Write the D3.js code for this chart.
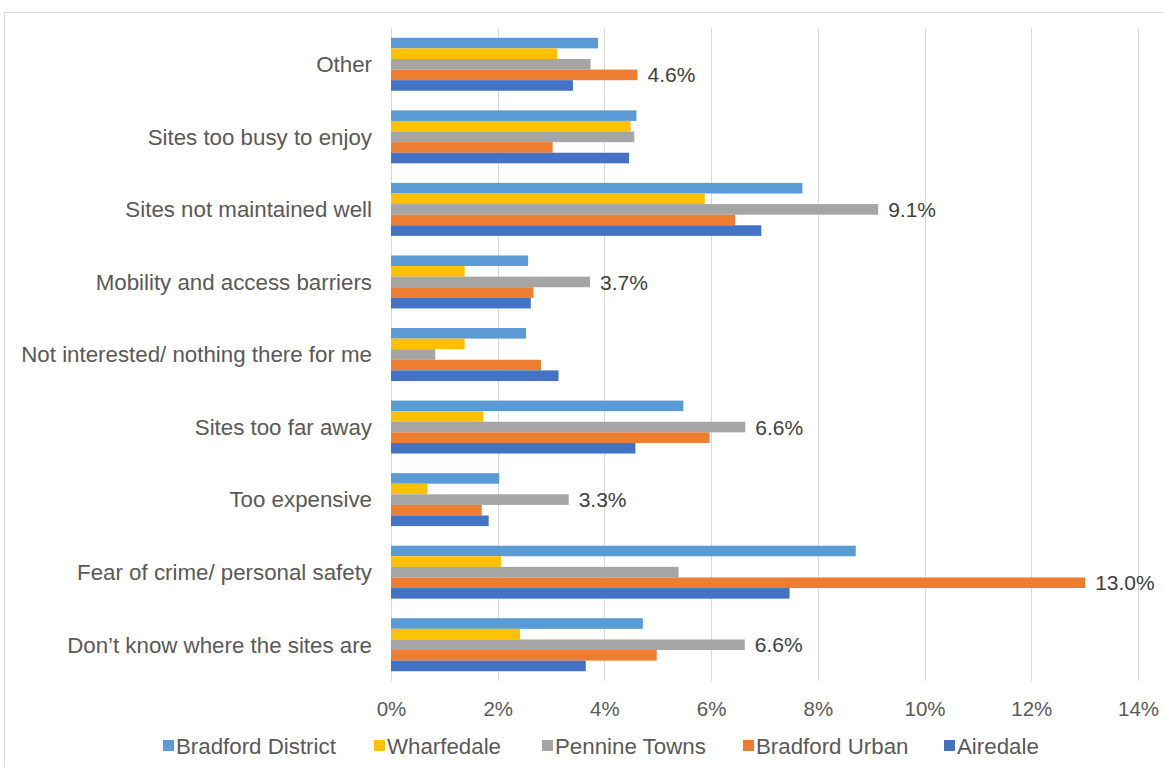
<!DOCTYPE html>
<html>
<head>
<meta charset="utf-8">
<script src="https://cdn.jsdelivr.net/npm/d3@7/dist/d3.min.js"></script>
<style>
  html, body { margin: 0; padding: 0; background: #fff; }
  svg { display: block; font-family: "Liberation Sans", Arial, sans-serif; }
</style>
</head>
<body>
<svg id="chart" width="1164" height="767"></svg>
<script>
// Reasons for not visiting green spaces, by area (share of respondents)
const categories = [
  "Other",
  "Sites too busy to enjoy",
  "Sites not maintained well",
  "Mobility and access barriers",
  "Not interested/ nothing there for me",
  "Sites too far away",
  "Too expensive",
  "Fear of crime/ personal safety",
  "Don\u2019t know where the sites are"
];

const seriesNames = ["Bradford District", "Wharfedale", "Pennine Towns", "Bradford Urban", "Airedale"];
const seriesColors = ["#5B9BD5", "#FFC000", "#A5A5A5", "#ED7D31", "#4472C4"];

// Values in percent, one entry per category (same order as categories)
const bradfordDistrict = [3.88, 4.60, 7.71, 2.57, 2.53, 5.48, 2.03, 8.71, 4.72];
const wharfedale       = [3.11, 4.49, 5.88, 1.38, 1.38, 1.73, 0.68, 2.06, 2.42];
const pennineTowns     = [3.74, 4.56, 9.13, 3.73, 0.83, 6.64, 3.33, 5.39, 6.63];
const bradfordUrban    = [4.62, 3.03, 6.45, 2.67, 2.81, 5.97, 1.70, 13.01, 4.98];
const airedale         = [3.41, 4.46, 6.94, 2.62, 3.14, 4.58, 1.83, 7.47, 3.65];

const seriesValues = [bradfordDistrict, wharfedale, pennineTowns, bradfordUrban, airedale];

// Data labels shown on the chart: [category index, series index]
const labelledBars = [[0, 3], [2, 2], [3, 2], [5, 2], [6, 2], [7, 3], [8, 2]];

const xTicks = [0, 2, 4, 6, 8, 10, 12, 14];

const textColor = "#595959";
const gridColor = "#D9D9D9";

const svg = d3.select("#chart");
const W = 1164, H = 767;
const plot = { left: 391, right: 1138, top: 28, bottom: 681 };

// Outer chart frame
svg.append("rect")
  .attr("x", 4.5).attr("y", 12.5)
  .attr("width", W + 10).attr("height", H + 10)
  .attr("fill", "#fff").attr("stroke", gridColor).attr("stroke-width", 1);

const x = d3.scaleLinear().domain([0, 14]).range([plot.left, plot.right]);
const y = d3.scaleBand().domain(categories).range([plot.top, plot.bottom])
  .paddingInner(0.27).paddingOuter(0.135);
const ySub = d3.scaleBand().domain(seriesNames).range([0, y.bandwidth()]);

// Vertical gridlines
svg.append("g")
  .selectAll("line")
  .data(xTicks)
  .join("line")
  .attr("x1", d => Math.round(x(d)) + 0.5)
  .attr("x2", d => Math.round(x(d)) + 0.5)
  .attr("y1", plot.top)
  .attr("y2", plot.bottom)
  .attr("stroke", gridColor)
  .attr("stroke-width", 1);

// X axis tick labels
const xAxis = d3.axisBottom(x).tickValues(xTicks).tickFormat(d => d + "%").tickSize(0).tickPadding(0);
const gx = svg.append("g").attr("transform", `translate(0, ${plot.bottom + 35})`).call(xAxis);
gx.select(".domain").remove();
gx.selectAll("text")
  .attr("y", 0)
  .attr("dy", 0)
  .attr("fill", textColor)
  .style("font-size", "20.5px")
  .style("font-family", "'Liberation Sans', Arial, sans-serif");

// Category labels
const yAxis = d3.axisLeft(y).tickSize(0).tickPadding(0);
const gy = svg.append("g").attr("transform", `translate(${plot.left - 19}, 0)`).call(yAxis);
gy.select(".domain").remove();
gy.selectAll("text")
  .attr("fill", textColor)
  .attr("dy", "0.35em")
  .style("font-size", "22.3px")
  .style("font-family", "'Liberation Sans', Arial, sans-serif");

// Bars
const rows = [];
categories.forEach((c, ci) => {
  seriesNames.forEach((s, si) => {
    rows.push({ category: c, ci, series: s, si, value: seriesValues[si][ci] });
  });
});

svg.append("g")
  .selectAll("rect")
  .data(rows)
  .join("rect")
  .attr("x", x(0))
  .attr("y", d => y(d.category) + ySub(d.series))
  .attr("width", d => x(d.value) - x(0))
  .attr("height", ySub.bandwidth())
  .attr("fill", d => seriesColors[d.si]);

// Value labels
svg.append("g")
  .selectAll("text")
  .data(labelledBars.map(([ci, si]) => rows.find(r => r.ci === ci && r.si === si)))
  .join("text")
  .attr("x", d => x(d.value) + 10)
  .attr("y", d => y(d.category) + ySub(d.series) + ySub.bandwidth() / 2)
  .attr("dy", "0.36em")
  .attr("fill", "#404040")
  .style("font-size", "21px")
  .text(d => d.value.toFixed(1) + "%");

// Legend
const legendX = [163, 374, 542, 743, 944];
const legend = svg.append("g").attr("transform", "translate(0, 746)");
const items = legend.selectAll("g")
  .data(seriesNames)
  .join("g")
  .attr("transform", (d, i) => `translate(${legendX[i]}, 0)`);
items.append("rect")
  .attr("x", 0).attr("y", -6)
  .attr("width", 11).attr("height", 11)
  .attr("fill", (d, i) => seriesColors[i]);
items.append("text")
  .attr("x", 13)
  .attr("y", 0)
  .attr("dy", "0.36em")
  .attr("fill", textColor)
  .style("font-size", "22.3px")
  .text(d => d);
</script>
</body>
</html>
